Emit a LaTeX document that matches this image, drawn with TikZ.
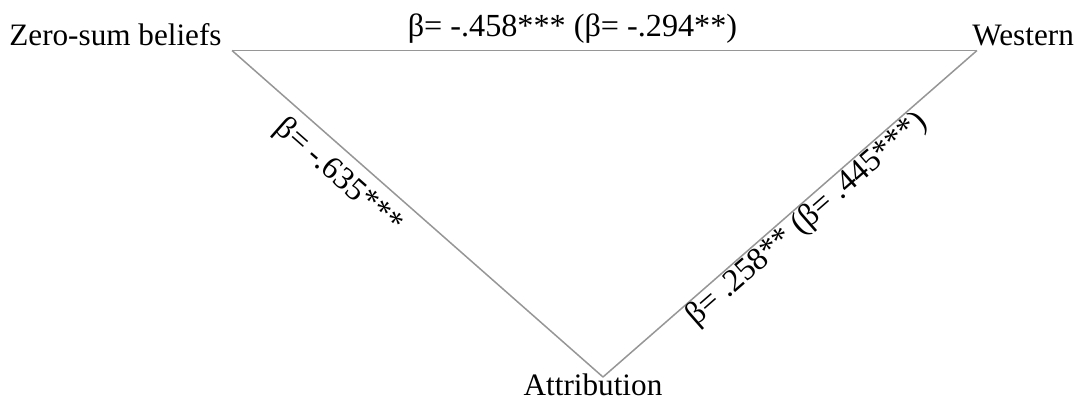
\documentclass[tikz,border=0pt]{standalone}
\usepackage{fontspec}
\setmainfont{Liberation Serif}
\begin{document}
\begin{tikzpicture}[x=0.5pt,y=-0.5pt,
  vlabel/.style={inner sep=0pt, font=\fontsize{15.6pt}{18pt}\selectfont},
  elabel/.style={font=\fontsize{16.1pt}{18pt}\selectfont},
  edge/.style={draw={rgb,255:red,150;green,150;blue,150}, line width=0.75pt}]
\useasboundingbox (0,0) rectangle (1078,402);
\coordinate (zs) at (232,50.5);
\coordinate (we) at (977,50.5);
\coordinate (at) at (603,377);
\node[vlabel, anchor=base east] (zsl) at (222,45) {Zero-sum beliefs};
\node[vlabel, anchor=base west] (wel) at (972,45) {Western};
\node[vlabel, anchor=base] (atl) at (593,395) {Attribution};
\draw[edge] (zs) -- node[elabel, pos=0.457, anchor=south, inner sep=3pt] (l1) {β= -.458*** (β= -.294**)} (we);
\draw[edge] (zs) -- node[elabel, pos=0.33, sloped, anchor=north, inner sep=4.5pt] (l2) {β= -.635***} (at);
\draw[edge] (at) -- node[elabel, pos=0.518, sloped, anchor=north, inner sep=0pt] (l3) {β= .258** (β= .445***)} (we);
\end{tikzpicture}
\end{document}
